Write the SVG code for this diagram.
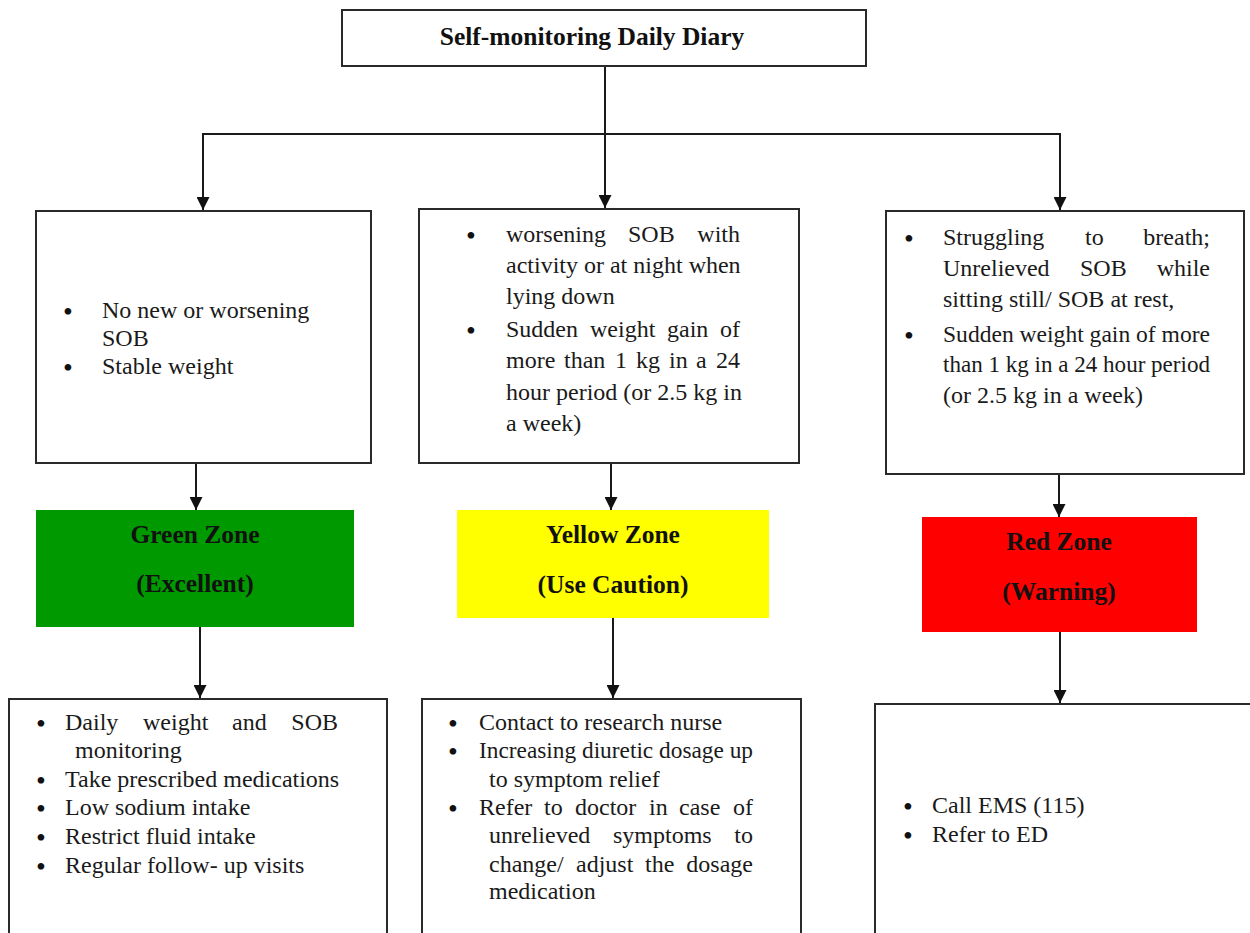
<svg xmlns="http://www.w3.org/2000/svg" width="1250" height="933" viewBox="0 0 1250 933">
<style>
.box{fill:#fff;stroke:#2a2a2a;stroke-width:2}
.zone{stroke:none}
.t{font-family:"Liberation Serif","Times New Roman",serif;font-size:24px;font-weight:400;fill:#1a1a1a}
.b{font-family:"Liberation Serif","Times New Roman",serif;font-size:25.5px;font-weight:bold;fill:#111;text-anchor:middle}
.bul{font-family:"Liberation Serif","Times New Roman",serif;font-size:28px;fill:#111;text-anchor:middle}
.e{text-anchor:end}
.c{fill:none;stroke:#1a1a1a;stroke-width:2}
</style>
<defs>
<marker id="ah" markerUnits="userSpaceOnUse" markerWidth="13" markerHeight="13" viewBox="0 0 12 12" refX="12" refY="6" orient="auto">
<path d="M0,0 L12,6 L0,12 z" fill="#111"/>
</marker>
</defs>
<rect width="1250" height="933" fill="#fff"/>

<g id="connectors">
<path class="c" d="M605,66 V208" marker-end="url(#ah)"/>
<path class="c" d="M203,134 H1060"/>
<path class="c" d="M203,133 V210" marker-end="url(#ah)"/>
<path class="c" d="M1060,133 V210" marker-end="url(#ah)"/>
<path class="c" d="M196,463 V510" marker-end="url(#ah)"/>
<path class="c" d="M611,463 V510" marker-end="url(#ah)"/>
<path class="c" d="M1059,474 V517" marker-end="url(#ah)"/>
<path class="c" d="M200,627 V698" marker-end="url(#ah)"/>
<path class="c" d="M613,618 V698" marker-end="url(#ah)"/>
<path class="c" d="M1060,632 V703" marker-end="url(#ah)"/>
</g>

<g id="diary">
<rect class="box" x="342" y="10" width="524" height="56"/>
<text class="b" x="592" y="45">Self-monitoring Daily Diary</text>
</g>

<g id="green-criteria">
<rect class="box" x="36" y="211" width="335" height="252"/>
<text class="bul" x="68" y="321">•</text>
<text class="t" x="102" y="318">No new or worsening</text>
<text class="t" x="102" y="346">SOB</text>
<text class="bul" x="68" y="377">•</text>
<text class="t" x="102" y="374">Stable weight</text>
</g>

<g id="yellow-criteria">
<rect class="box" x="419" y="209" width="380" height="254"/>
<text class="bul" x="471" y="245">•</text>
<text class="t" x="506" y="242">worsening</text>
<text class="t" x="628" y="242">SOB</text>
<text class="t e" x="740" y="242">with</text>
<text class="t" x="506" y="273">activity or at night when</text>
<text class="t" x="506" y="304">lying down</text>
<text class="bul" x="471" y="340">•</text>
<text class="t" x="506" y="337">Sudden</text>
<text class="t" x="590" y="337">weight</text>
<text class="t" x="667" y="337">gain</text>
<text class="t e" x="740" y="337">of</text>
<text class="t" x="506" y="368">more</text>
<text class="t" x="564" y="368">than</text>
<text class="t" x="615" y="368">1</text>
<text class="t" x="636" y="368">kg</text>
<text class="t" x="669" y="368">in</text>
<text class="t" x="696" y="368">a</text>
<text class="t e" x="740" y="368">24</text>
<text class="t" x="506" y="400">hour period (or 2.5 kg in</text>
<text class="t" x="506" y="431">a week)</text>
</g>

<g id="red-criteria">
<rect class="box" x="886" y="211" width="358" height="263"/>
<text class="bul" x="909" y="248">•</text>
<text class="t" x="943" y="245">Struggling</text>
<text class="t" x="1085" y="245">to</text>
<text class="t e" x="1210" y="245">breath;</text>
<text class="t" x="943" y="276">Unrelieved</text>
<text class="t" x="1080" y="276">SOB</text>
<text class="t e" x="1210" y="276">while</text>
<text class="t" x="943" y="307">sitting still/ SOB at rest,</text>
<text class="bul" x="909" y="345">•</text>
<text class="t" x="943" y="342" textLength="267" lengthAdjust="spacingAndGlyphs">Sudden weight gain of more</text>
<text class="t" x="943" y="372" textLength="267" lengthAdjust="spacingAndGlyphs">than 1 kg in a 24 hour period</text>
<text class="t" x="943" y="403">(or 2.5 kg in a week)</text>
</g>

<g id="green-zone">
<rect class="zone" x="36" y="510" width="318" height="117" fill="#009900"/>
<text class="b" x="195" y="543">Green Zone</text>
<text class="b" x="195" y="592">(Excellent)</text>
</g>

<g id="yellow-zone">
<rect class="zone" x="457" y="510" width="312" height="108" fill="#ffff00"/>
<text class="b" x="613" y="543">Yellow Zone</text>
<text class="b" x="613" y="593">(Use Caution)</text>
</g>

<g id="red-zone">
<rect class="zone" x="922" y="517" width="275" height="115" fill="#ff0000"/>
<text class="b" x="1059" y="550">Red Zone</text>
<text class="b" x="1059" y="600">(Warning)</text>
</g>

<g id="green-actions">
<rect class="box" x="9" y="699" width="378" height="260"/>
<text class="bul" x="41" y="733">•</text>
<text class="t" x="65" y="730">Daily</text>
<text class="t" x="143" y="730">weight</text>
<text class="t" x="232" y="730">and</text>
<text class="t e" x="338" y="730">SOB</text>
<text class="t" x="75" y="758">monitoring</text>
<text class="bul" x="41" y="790">•</text>
<text class="t" x="65" y="787">Take prescribed medications</text>
<text class="bul" x="41" y="818">•</text>
<text class="t" x="65" y="815">Low sodium intake</text>
<text class="bul" x="41" y="847">•</text>
<text class="t" x="65" y="844">Restrict fluid intake</text>
<text class="bul" x="41" y="876">•</text>
<text class="t" x="65" y="873">Regular follow- up visits</text>
</g>

<g id="yellow-actions">
<rect class="box" x="422" y="699" width="379" height="260"/>
<text class="bul" x="453" y="733">•</text>
<text class="t" x="479" y="730">Contact to research nurse</text>
<text class="bul" x="453" y="761">•</text>
<text class="t" x="479" y="758" textLength="274" lengthAdjust="spacingAndGlyphs">Increasing diuretic dosage up</text>
<text class="t" x="489" y="787">to symptom relief</text>
<text class="bul" x="453" y="818">•</text>
<text class="t" x="479" y="815">Refer</text>
<text class="t" x="544" y="815">to</text>
<text class="t" x="575" y="815">doctor</text>
<text class="t" x="649" y="815">in</text>
<text class="t" x="679" y="815">case</text>
<text class="t e" x="753" y="815">of</text>
<text class="t" x="489" y="843">unrelieved</text>
<text class="t" x="613" y="843">symptoms</text>
<text class="t e" x="753" y="843">to</text>
<text class="t" x="489" y="872">change/</text>
<text class="t" x="576" y="872">adjust</text>
<text class="t" x="645" y="872">the</text>
<text class="t e" x="753" y="872">dosage</text>
<text class="t" x="489" y="899">medication</text>
</g>

<g id="red-actions">
<rect class="box" x="875" y="704" width="400" height="260"/>
<text class="bul" x="908" y="816">•</text>
<text class="t" x="932" y="813">Call EMS (115)</text>
<text class="bul" x="908" y="845">•</text>
<text class="t" x="932" y="842">Refer to ED</text>
</g>
</svg>
